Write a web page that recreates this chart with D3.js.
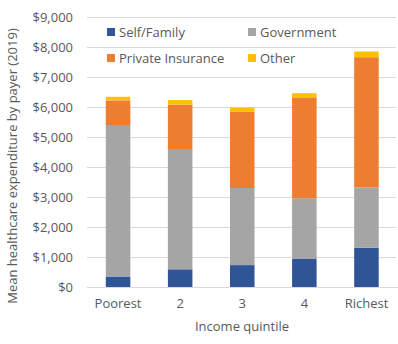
<!DOCTYPE html>
<html><head><meta charset="utf-8">
<script src="https://cdn.jsdelivr.net/npm/d3@7"></script>
<style>body{margin:0;background:#fff}svg{display:block}text{font-family:"Open Sans",sans-serif;fill:#595959}</style>
</head><body><svg id="c" width="398" height="344"></svg>
<script>
const categories = ["Poorest","2","3","4","Richest"];
const seriesNames = ["Self/Family","Government","Private Insurance","Other"];
const selfFamily = [350, 590, 730, 950, 1310];
const government = [5050, 4010, 2570, 2010, 2010];
const privateIns = [820, 1480, 2550, 3360, 4340];
const other = [120, 150, 130, 140, 190];
const yTicks = [0,1000,2000,3000,4000,5000,6000,7000,8000,9000];
const colors = ["#2F5597","#A5A5A5","#ED7D31","#FFC000"];

const rows = categories.map((c,i)=>({cat:c,"Self/Family":selfFamily[i],"Government":government[i],"Private Insurance":privateIns[i],"Other":other[i]}));
const stack = d3.stack().keys(seriesNames)(rows);

const svg = d3.select("#c");
const x = d3.scaleBand().domain(categories).range([87,397.5]).paddingInner(0.605).paddingOuter(0.3025);
const y = d3.scaleLinear().domain([0,9000]).range([287,17]);

// gridlines
svg.append("g").selectAll("line").data(yTicks).join("line")
  .attr("x1",87).attr("x2",396).attr("y1",d=>y(d)).attr("y2",d=>y(d))
  .attr("stroke","#D9D9D9").attr("stroke-width",1).attr("shape-rendering","crispEdges");

// y axis labels
const yAxis = svg.append("g").attr("transform","translate(87,0)")
  .call(d3.axisLeft(y).tickValues(yTicks).tickSize(0).tickPadding(14).tickFormat(d=>"$"+d3.format(",")(d)));
yAxis.select(".domain").remove();
yAxis.selectAll("text").attr("font-size","13px").attr("fill","#595959").style("font-family","'Open Sans',sans-serif");

// bars
svg.append("g").selectAll("g").data(stack).join("g").attr("fill",(d,i)=>colors[i])
  .selectAll("rect").data(d=>d).join("rect")
  .attr("x",d=>x(d.data.cat)).attr("width",x.bandwidth())
  .attr("y",d=>y(d[1])).attr("height",d=>y(d[0])-y(d[1]));

// x axis
const xAxis = svg.append("g").attr("transform","translate(0,287)")
  .call(d3.axisBottom(x).tickSize(0).tickPadding(12));
xAxis.select(".domain").attr("stroke","#D9D9D9");
xAxis.selectAll("text").attr("font-size","13px").attr("fill","#595959").style("font-family","'Open Sans',sans-serif");

// axis titles
svg.append("text").attr("x",242).attr("y",331).attr("text-anchor","middle").attr("font-size","13px").text("Income quintile");
svg.append("text").attr("transform","translate(17,166) rotate(-90)").attr("text-anchor","middle").attr("font-size","13px").text("Mean healthcare expenditure by payer (2019)");

// legend
const legPos = [[107,32],[248,32],[107,58],[248,58]];
const leg = svg.append("g").selectAll("g").data(seriesNames).join("g")
  .attr("transform",(d,i)=>`translate(${legPos[i][0]},${legPos[i][1]})`);
leg.append("rect").attr("x",0).attr("y",-4).attr("width",8).attr("height",8).attr("fill",(d,i)=>colors[i]);
leg.append("text").attr("x",12).attr("y",0).attr("dy","0.35em").attr("font-size","13px").text(d=>d);
</script></body></html>
